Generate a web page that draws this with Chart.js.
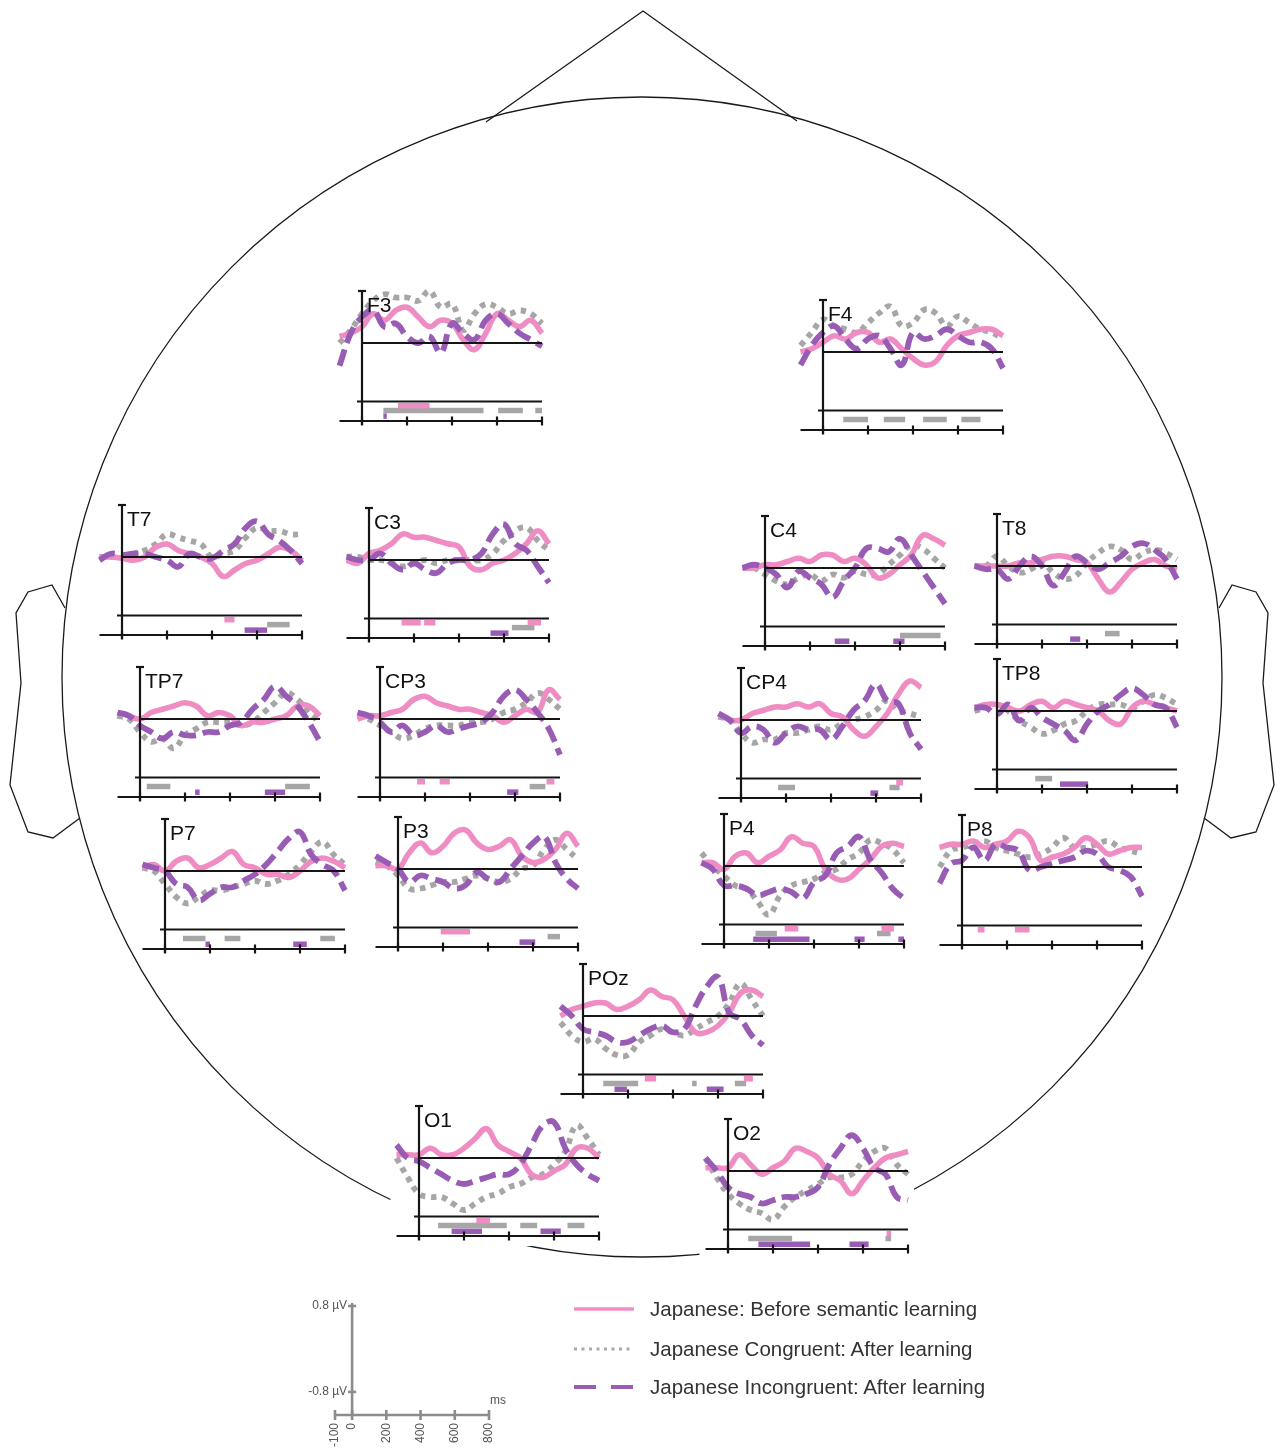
<!DOCTYPE html>
<html>
<head>
<meta charset="utf-8">
<script src="https://cdn.jsdelivr.net/npm/chart.js@4.4.1/dist/chart.umd.min.js"></script>
<style>
  html, body { margin: 0; padding: 0; background: #fff; }
  #page { position: relative; width: 1282px; height: 1452px; overflow: hidden;
          font-family: "Liberation Sans", Arial, Helvetica, sans-serif; }
  canvas { position: absolute; display: block; }
  .legend-row { position: absolute; left: 572px; height: 26px; display: flex; align-items: center;
                font-size: 20.5px; color: #333; white-space: nowrap; }
  .legend-row svg { width: 64px; height: 10px; margin-right: 14px; }
</style>
</head>
<body>
<div id="page">
  <canvas id="head"></canvas>
  <div class="legend-row" style="top:1296px">
    <svg viewBox="0 0 64 10"><line x1="2" y1="5" x2="62" y2="5" stroke="#ef8fc4" stroke-width="3.5"/></svg>
    <span>Japanese: Before semantic learning</span>
  </div>
  <div class="legend-row" style="top:1336px">
    <svg viewBox="0 0 64 10"><line x1="2" y1="5" x2="62" y2="5" stroke="#a8a8a8" stroke-width="3" stroke-dasharray="3 4.5"/></svg>
    <span>Japanese Congruent: After learning</span>
  </div>
  <div class="legend-row" style="top:1374px">
    <svg viewBox="0 0 64 10"><line x1="2" y1="5" x2="62" y2="5" stroke="#9a5db3" stroke-width="4" stroke-dasharray="22 15"/></svg>
    <span>Japanese Incongruent: After learning</span>
  </div>
</div>
<script>
// ---------- ERP data (µV), sampled every 50 ms from -100 to 800 ms ----------
const times = [-100, -50, 0, 50, 100, 150, 200, 250, 300, 350, 400, 450, 500, 550, 600, 650, 700, 750, 800];

const F3_before      = [0.1, 0.15, 0.25, 0.45, 0.35, 0.5, 0.55, 0.4, 0.25, 0.35, 0.3, 0.05, -0.1, 0.15, 0.45, 0.35, 0.25, 0.35, 0.15];
const F3_congruent   = [0.0, 0.2, 0.45, 0.65, 0.75, 0.7, 0.7, 0.65, 0.8, 0.55, 0.6, 0.2, 0.45, 0.6, 0.55, 0.45, 0.5, 0.45, 0.3];
const F3_incongruent = [-0.35, 0.15, 0.4, 0.5, 0.25, 0.3, 0.1, 0.0, 0.1, -0.15, 0.3, 0.15, 0.05, 0.35, 0.45, 0.3, 0.15, 0.05, -0.05];
const F3_sigB = [[160, 300]];
const F3_sigC = [[95, 540], [605, 715], [770, 800]];
const F3_sigI = [[95, 110]];

const F4_before      = [0.0, 0.05, 0.15, 0.25, 0.2, 0.3, 0.3, 0.15, 0.2, 0.05, -0.1, -0.2, -0.15, 0.1, 0.25, 0.3, 0.35, 0.35, 0.25];
const F4_congruent   = [0.1, 0.3, 0.5, 0.4, 0.35, 0.3, 0.45, 0.6, 0.7, 0.4, 0.45, 0.65, 0.6, 0.4, 0.55, 0.45, 0.35, 0.3, 0.2];
const F4_incongruent = [-0.2, 0.1, 0.3, 0.4, 0.2, 0.05, 0.2, 0.25, 0.05, -0.2, 0.3, 0.2, 0.25, 0.35, 0.25, 0.15, 0.15, 0.05, -0.25];
const F4_sigB = [];
const F4_sigC = [[90, 200], [270, 365], [445, 550], [615, 700]];
const F4_sigI = [];

const T7_before      = [0.0, 0.0, -0.02, -0.05, 0.0, 0.15, 0.2, 0.1, 0.05, 0.0, -0.1, -0.3, -0.2, -0.1, -0.05, 0.05, 0.15, 0.1, -0.05];
const T7_congruent   = [0.0, 0.0, 0.0, 0.05, 0.1, 0.2, 0.35, 0.3, 0.25, 0.2, 0.0, 0.05, 0.1, 0.3, 0.45, 0.4, 0.4, 0.35, 0.35];
const T7_incongruent = [-0.05, 0.05, 0.03, 0.05, 0.05, 0.0, -0.05, -0.15, 0.05, 0.0, -0.02, 0.1, 0.2, 0.45, 0.55, 0.35, 0.25, 0.1, -0.1];
const T7_sigB = [[455, 500]];
const T7_sigC = [[645, 745]];
const T7_sigI = [[545, 645]];

const C3_before      = [0.0, -0.05, 0.1, 0.15, 0.25, 0.4, 0.35, 0.35, 0.3, 0.25, 0.2, -0.1, -0.15, -0.05, 0.0, 0.1, 0.25, 0.45, 0.25];
const C3_congruent   = [0.05, 0.05, 0.0, 0.0, -0.05, -0.1, -0.05, 0.0, -0.05, 0.0, 0.0, 0.0, 0.0, 0.1, 0.3, 0.45, 0.5, 0.3, 0.15];
const C3_incongruent = [0.05, 0.0, 0.0, 0.1, -0.05, -0.15, -0.05, -0.15, -0.2, -0.05, 0.0, 0.0, 0.1, 0.4, 0.55, 0.25, 0.15, -0.1, -0.35];
const C3_sigB = [[145, 230], [245, 295], [705, 765]];
const C3_sigC = [[635, 735]];
const C3_sigI = [[540, 620]];

const C4_before      = [0.0, 0.0, 0.05, 0.05, 0.1, 0.15, 0.1, 0.2, 0.2, 0.1, 0.15, 0.05, -0.15, -0.1, 0.05, 0.2, 0.5, 0.45, 0.35];
const C4_congruent   = [0.0, 0.0, -0.1, -0.2, -0.25, -0.15, -0.1, -0.2, -0.1, -0.15, -0.05, -0.1, -0.1, 0.05, 0.2, 0.35, 0.3, 0.15, 0.0];
const C4_incongruent = [0.0, 0.05, 0.0, -0.1, -0.3, -0.05, -0.15, -0.25, -0.45, -0.2, 0.0, 0.3, 0.3, 0.25, 0.45, 0.2, -0.05, -0.3, -0.55];
const C4_sigB = [];
const C4_sigC = [[600, 780]];
const C4_sigI = [[310, 375], [570, 620]];

const T8_before      = [0.0, 0.0, 0.0, 0.0, 0.05, 0.05, 0.1, 0.15, 0.15, 0.1, 0.05, -0.2, -0.4, -0.25, -0.05, 0.05, 0.1, 0.0, -0.05];
const T8_congruent   = [0.0, 0.0, 0.15, 0.0, -0.1, -0.05, 0.05, -0.1, -0.2, -0.15, 0.05, 0.2, 0.3, 0.25, 0.1, 0.2, 0.25, 0.2, 0.1];
const T8_incongruent = [0.0, -0.05, -0.05, -0.2, 0.0, 0.15, 0.0, -0.3, -0.1, 0.15, 0.05, -0.05, 0.05, 0.15, 0.3, 0.35, 0.25, 0.1, -0.2];
const T8_sigB = [];
const T8_sigC = [[480, 545]];
const T8_sigI = [[325, 370]];

const TP7_before      = [0.1, 0.05, 0.0, 0.1, 0.15, 0.2, 0.25, 0.2, 0.05, 0.1, 0.05, -0.1, -0.05, -0.05, 0.0, 0.05, 0.2, 0.2, 0.05];
const TP7_congruent   = [0.05, 0.0, -0.2, -0.35, -0.3, -0.45, -0.25, -0.15, -0.05, -0.05, -0.05, -0.1, -0.05, 0.1, 0.25, 0.4, 0.3, 0.1, -0.05];
const TP7_incongruent = [0.1, 0.05, -0.1, -0.2, -0.3, -0.2, -0.25, -0.25, -0.2, -0.2, -0.1, -0.05, 0.15, 0.3, 0.5, 0.35, 0.2, -0.05, -0.35];
const TP7_sigB = [];
const TP7_sigC = [[30, 135], [645, 755]];
const TP7_sigI = [[245, 265], [555, 645]];

const CP3_before      = [0.0, 0.05, 0.05, 0.1, 0.15, 0.3, 0.35, 0.25, 0.2, 0.15, 0.15, 0.1, 0.05, -0.05, 0.05, 0.15, 0.1, 0.45, 0.3];
const CP3_congruent   = [0.05, 0.0, -0.1, -0.2, -0.3, -0.25, -0.15, -0.1, -0.1, -0.1, -0.05, -0.05, 0.0, 0.1, 0.15, 0.25, 0.4, 0.3, 0.15];
const CP3_incongruent = [0.1, 0.05, -0.05, -0.2, -0.1, -0.25, -0.2, -0.1, -0.2, -0.15, -0.1, -0.05, 0.1, 0.35, 0.45, 0.3, 0.1, -0.15, -0.55];
const CP3_sigB = [[165, 200], [265, 310], [740, 775]];
const CP3_sigC = [[665, 735]];
const CP3_sigI = [[565, 615]];

const CP4_before      = [0.1, 0.0, 0.0, 0.1, 0.15, 0.2, 0.2, 0.25, 0.2, 0.25, 0.1, 0.05, -0.15, -0.25, -0.1, 0.1, 0.4, 0.6, 0.5];
const CP4_congruent   = [0.05, 0.0, -0.2, -0.35, -0.3, -0.3, -0.2, -0.2, -0.15, -0.1, -0.15, -0.05, 0.0, 0.05, 0.15, 0.3, 0.15, 0.1, 0.05];
const CP4_incongruent = [0.1, 0.0, -0.2, -0.1, -0.15, -0.35, -0.2, -0.1, -0.15, -0.15, -0.3, -0.1, 0.15, 0.3, 0.55, 0.3, 0.25, -0.2, -0.45];
const CP4_sigB = [[690, 720]];
const CP4_sigC = [[165, 240], [660, 705]];
const CP4_sigI = [[575, 610]];

const TP8_before      = [0.05, 0.1, 0.1, 0.05, 0.0, 0.1, 0.15, 0.05, 0.15, 0.1, 0.05, 0.0, -0.15, -0.2, 0.05, 0.15, 0.1, 0.05, 0.0];
const TP8_congruent   = [0.0, 0.05, 0.1, 0.0, -0.15, -0.25, -0.35, -0.3, -0.2, -0.15, 0.0, 0.1, 0.1, 0.1, 0.05, 0.15, 0.25, 0.2, 0.1];
const TP8_incongruent = [0.05, 0.05, -0.05, 0.1, -0.15, 0.05, -0.1, -0.2, -0.3, -0.45, -0.2, 0.0, 0.1, 0.25, 0.35, 0.25, 0.1, 0.05, -0.25];
const TP8_sigB = [];
const TP8_sigC = [[170, 245]];
const TP8_sigI = [[280, 405]];

const P7_before      = [0.05, 0.1, 0.0, 0.15, 0.2, 0.05, 0.1, 0.2, 0.3, 0.1, 0.05, -0.05, -0.05, -0.1, 0.0, 0.15, 0.2, 0.15, 0.05];
const P7_congruent   = [0.05, 0.0, -0.2, -0.4, -0.5, -0.4, -0.3, -0.3, -0.25, -0.2, -0.15, -0.2, -0.15, -0.05, 0.1, 0.3, 0.45, 0.25, 0.1];
const P7_incongruent = [0.1, 0.05, 0.0, -0.2, -0.25, -0.45, -0.35, -0.25, -0.25, -0.15, -0.05, 0.1, 0.3, 0.5, 0.6, 0.25, 0.1, 0.0, -0.3];
const P7_sigB = [];
const P7_sigC = [[80, 180], [265, 335], [690, 755]];
const P7_sigI = [[180, 200], [570, 630]];

const P3_before      = [0.05, 0.05, 0.0, 0.25, 0.4, 0.25, 0.35, 0.55, 0.6, 0.4, 0.3, 0.35, 0.45, 0.2, 0.1, 0.15, 0.3, 0.55, 0.35];
const P3_congruent   = [0.1, 0.05, -0.1, -0.3, -0.3, -0.25, -0.2, -0.2, -0.15, -0.1, -0.15, -0.2, -0.15, 0.0, 0.05, 0.3, 0.45, 0.3, 0.15];
const P3_incongruent = [0.2, 0.1, 0.0, -0.2, -0.1, -0.15, -0.2, -0.3, -0.25, -0.05, -0.15, -0.2, 0.0, 0.2, 0.4, 0.5, 0.1, -0.15, -0.3];
const P3_sigB = [[190, 320]];
const P3_sigC = [[665, 720]];
const P3_sigI = [[540, 610]];

const P4_before      = [0.05, 0.05, -0.05, 0.15, 0.2, 0.05, 0.15, 0.25, 0.45, 0.35, 0.3, -0.05, -0.2, -0.2, -0.05, 0.1, 0.3, 0.35, 0.3];
const P4_congruent   = [0.2, 0.0, -0.15, -0.3, -0.35, -0.55, -0.75, -0.45, -0.3, -0.25, -0.2, -0.1, -0.05, 0.1, 0.2, 0.4, 0.35, 0.25, 0.05];
const P4_incongruent = [0.05, -0.05, -0.3, -0.3, -0.35, -0.45, -0.4, -0.35, -0.4, -0.5, -0.25, -0.15, 0.2, 0.3, 0.45, 0.1, -0.1, -0.35, -0.5];
const P4_sigB = [[270, 330], [700, 755]];
const P4_sigC = [[140, 235], [680, 740]];
const P4_sigI = [[130, 380], [580, 625], [775, 800]];

const P8_before      = [0.3, 0.35, 0.35, 0.4, 0.3, 0.35, 0.4, 0.55, 0.45, 0.1, 0.15, 0.2, 0.3, 0.45, 0.35, 0.2, 0.25, 0.3, 0.3];
const P8_congruent   = [0.0, 0.25, 0.3, 0.35, 0.4, 0.3, 0.25, 0.2, 0.15, 0.2, 0.3, 0.45, 0.3, 0.3, 0.35, 0.4, 0.3, 0.25, 0.2];
const P8_incongruent = [-0.25, 0.05, 0.1, 0.3, 0.1, 0.35, 0.3, 0.25, -0.05, 0.0, 0.05, 0.1, 0.15, 0.25, 0.2, 0.0, -0.05, -0.15, -0.45];
const P8_sigB = [[70, 100], [235, 300]];
const P8_sigC = [];
const P8_sigI = [];

const POz_before      = [0.0, 0.1, 0.15, 0.2, 0.2, 0.1, 0.15, 0.25, 0.4, 0.3, 0.25, 0.0, -0.25, -0.25, -0.15, 0.05, 0.35, 0.4, 0.3];
const POz_congruent   = [-0.1, -0.3, -0.4, -0.35, -0.5, -0.6, -0.6, -0.4, -0.3, -0.2, -0.25, -0.3, -0.2, -0.1, 0.0, 0.2, 0.5, 0.25, 0.0];
const POz_incongruent = [0.15, 0.0, -0.2, -0.25, -0.3, -0.4, -0.4, -0.3, -0.2, -0.15, -0.25, -0.2, 0.15, 0.45, 0.6, 0.05, -0.05, -0.3, -0.45];
const POz_sigB = [[275, 325], [715, 755]];
const POz_sigC = [[90, 245], [485, 505], [675, 725]];
const POz_sigI = [[140, 195], [550, 625]];

const O1_before      = [0.05, 0.05, 0.05, 0.15, 0.05, 0.05, 0.15, 0.3, 0.45, 0.2, 0.1, 0.0, -0.25, -0.3, -0.2, -0.1, 0.15, 0.15, 0.0];
const O1_congruent   = [0.0, -0.3, -0.55, -0.6, -0.6, -0.7, -0.8, -0.7, -0.6, -0.55, -0.45, -0.4, -0.3, -0.25, -0.1, 0.1, 0.5, 0.3, 0.05];
const O1_incongruent = [0.2, 0.0, -0.05, -0.15, -0.25, -0.35, -0.4, -0.35, -0.3, -0.25, -0.25, -0.1, 0.2, 0.5, 0.55, 0.15, -0.1, -0.25, -0.35];
const O1_sigB = [[255, 315]];
const O1_sigC = [[85, 390], [450, 525], [660, 735]];
const O1_sigI = [[145, 280], [540, 630]];

const O2_before      = [0.05, 0.05, 0.05, 0.25, 0.1, -0.05, 0.05, 0.15, 0.35, 0.3, 0.2, -0.05, -0.15, -0.35, -0.15, 0.05, 0.2, 0.25, 0.3];
const O2_congruent   = [0.2, -0.1, -0.35, -0.5, -0.6, -0.65, -0.75, -0.55, -0.4, -0.3, -0.2, -0.1, -0.1, -0.05, 0.15, 0.3, 0.35, 0.1, -0.05];
const O2_incongruent = [0.2, 0.0, -0.25, -0.35, -0.4, -0.5, -0.45, -0.4, -0.4, -0.35, -0.25, 0.1, 0.35, 0.55, 0.35, 0.05, -0.05, -0.4, -0.45];
const O2_sigB = [[705, 725]];
const O2_sigC = [[90, 285], [700, 725]];
const O2_sigI = [[135, 365], [540, 625]];

// axis tick values of the calibration bar
const scaleTicksMs = [-100, 0, 200, 400, 600, 800];
const scaleTicksUv = [0.8, -0.8];
const panelTicksMs = [0, 200, 400, 600, 800];

// ---------- per-panel table built from the arrays above ----------
const panelSeries = {
  F3:  [F3_before, F3_congruent, F3_incongruent, F3_sigB, F3_sigC, F3_sigI],
  F4:  [F4_before, F4_congruent, F4_incongruent, F4_sigB, F4_sigC, F4_sigI],
  T7:  [T7_before, T7_congruent, T7_incongruent, T7_sigB, T7_sigC, T7_sigI],
  C3:  [C3_before, C3_congruent, C3_incongruent, C3_sigB, C3_sigC, C3_sigI],
  C4:  [C4_before, C4_congruent, C4_incongruent, C4_sigB, C4_sigC, C4_sigI],
  T8:  [T8_before, T8_congruent, T8_incongruent, T8_sigB, T8_sigC, T8_sigI],
  TP7: [TP7_before, TP7_congruent, TP7_incongruent, TP7_sigB, TP7_sigC, TP7_sigI],
  CP3: [CP3_before, CP3_congruent, CP3_incongruent, CP3_sigB, CP3_sigC, CP3_sigI],
  CP4: [CP4_before, CP4_congruent, CP4_incongruent, CP4_sigB, CP4_sigC, CP4_sigI],
  TP8: [TP8_before, TP8_congruent, TP8_incongruent, TP8_sigB, TP8_sigC, TP8_sigI],
  P7:  [P7_before, P7_congruent, P7_incongruent, P7_sigB, P7_sigC, P7_sigI],
  P3:  [P3_before, P3_congruent, P3_incongruent, P3_sigB, P3_sigC, P3_sigI],
  P4:  [P4_before, P4_congruent, P4_incongruent, P4_sigB, P4_sigC, P4_sigI],
  P8:  [P8_before, P8_congruent, P8_incongruent, P8_sigB, P8_sigC, P8_sigI],
  POz: [POz_before, POz_congruent, POz_incongruent, POz_sigB, POz_sigC, POz_sigI],
  O1:  [O1_before, O1_congruent, O1_incongruent, O1_sigB, O1_sigC, O1_sigI],
  O2:  [O2_before, O2_congruent, O2_incongruent, O2_sigB, O2_sigC, O2_sigI]
};

// ---------- layout: where each electrode's 0 ms / 0 µV origin sits on the page ----------
const panelLayout = [
  { id: 'F3',  x: 362, y: 343 },  { id: 'F4',  x: 823, y: 352 },
  { id: 'T7',  x: 122, y: 557 },  { id: 'C3',  x: 369, y: 560 },
  { id: 'C4',  x: 765, y: 568 },  { id: 'T8',  x: 997, y: 566 },
  { id: 'TP7', x: 140, y: 719 },  { id: 'CP3', x: 380, y: 719 },
  { id: 'CP4', x: 741, y: 720 },  { id: 'TP8', x: 997, y: 711 },
  { id: 'P7',  x: 165, y: 871 },  { id: 'P3',  x: 398, y: 869 },
  { id: 'P4',  x: 724, y: 866 },  { id: 'P8',  x: 962, y: 867 },
  { id: 'POz', x: 583, y: 1016 },
  { id: 'O1',  x: 419, y: 1158 }, { id: 'O2',  x: 728, y: 1171 }
];

const PX_PER_MS = 0.225;
const PX_PER_UV = 65;
const T_MIN = -100, T_MAX = 800;
const Y_MAX = 1.1, Y_MIN = -1.3;
const TOP_TICK = 0.8;        // calibration tick on the vertical axis
const LOWER_LINE = -0.9;     // baseline above the significance rows
const AXIS_FLOOR = -1.2;     // time axis
const SIG_ROWS = { before: -0.965, congruent: -1.04, incongruent: -1.125 };

const COLORS = { before: '#ef8cc3', congruent: '#a6a6a6', incongruent: '#995cb4', axis: '#151515' };

Chart.defaults.font.family = '"Liberation Sans", Arial, Helvetica, sans-serif';

// ---------- head outline ----------
const HEAD = { cx: 642, cy: 677, r: 580 };
const NOSE = [[486, 122], [643, 11], [797, 121]];
const LEFT_EAR = [[65, 608], [52, 585], [28, 592], [16, 613], [21, 683], [10, 785], [28, 832], [53, 838], [80, 818]];

const headOutline = {
  id: 'headOutline',
  afterDraw(chart) {
    const { ctx, scales: { x, y } } = chart;
    const px = v => x.getPixelForValue(v), py = v => y.getPixelForValue(v);
    ctx.save();
    ctx.strokeStyle = '#1a1a1a';
    ctx.lineWidth = 1.3;
    ctx.lineJoin = 'miter';
    ctx.beginPath();
    ctx.arc(px(HEAD.cx), py(HEAD.cy), px(HEAD.cx + HEAD.r) - px(HEAD.cx), 0, Math.PI * 2);
    ctx.stroke();
    const poly = pts => {
      ctx.beginPath();
      pts.forEach(([a, b], i) => i ? ctx.lineTo(px(a), py(b)) : ctx.moveTo(px(a), py(b)));
      ctx.stroke();
    };
    poly(NOSE);
    poly(LEFT_EAR);
    poly(LEFT_EAR.map(([a, b]) => [2 * HEAD.cx - a, b]));
    ctx.restore();
  }
};

const headCanvas = document.getElementById('head');
headCanvas.width = 1282; headCanvas.height = 1452;
headCanvas.style.left = '0px'; headCanvas.style.top = '0px';
headCanvas.style.width = '1282px'; headCanvas.style.height = '1452px';
new Chart(headCanvas, {
  type: 'scatter',
  data: { datasets: [] },
  options: {
    responsive: false, animation: false, events: [],
    layout: { padding: 0 },
    plugins: { legend: { display: false }, tooltip: { enabled: false } },
    scales: {
      x: { type: 'linear', min: 0, max: 1282, display: false },
      y: { type: 'linear', min: 0, max: 1452, reverse: true, display: false }
    }
  },
  plugins: [headOutline]
});

// ---------- electrode panels ----------
const panelFrame = {
  id: 'panelFrame',
  beforeDatasetsDraw(chart) {
    // white card behind the panel, hiding the head outline where they overlap
    const { ctx, scales: { x, y } } = chart;
    const xL = x.getPixelForValue(T_MIN), xR = x.getPixelForValue(T_MAX);
    const yTop = y.getPixelForValue(TOP_TICK), yBot = y.getPixelForValue(AXIS_FLOOR);
    ctx.save();
    ctx.fillStyle = '#fff';
    ctx.fillRect(xL - 6, yTop - 4, xR - xL + 12, yBot - yTop + 14);
    ctx.restore();
  },
  afterDatasetsDraw(chart, args, opts) {
    const { ctx, scales: { x, y } } = chart;
    const x0 = x.getPixelForValue(0), xL = x.getPixelForValue(T_MIN), xR = x.getPixelForValue(T_MAX);
    const yTop = y.getPixelForValue(TOP_TICK), y0 = y.getPixelForValue(0);
    const yLow = y.getPixelForValue(LOWER_LINE), yBot = y.getPixelForValue(AXIS_FLOOR);
    ctx.save();
    ctx.strokeStyle = COLORS.axis;
    ctx.lineWidth = 2.2;
    ctx.lineCap = 'butt';
    const seg = (a, b, c, d) => { ctx.beginPath(); ctx.moveTo(a, b); ctx.lineTo(c, d); ctx.stroke(); };
    seg(x0, yTop, x0, yBot + 4);
    seg(x0 - 4, yTop, x0 + 4, yTop);
    seg(x0, y0, xR, y0);
    seg(x0 - 5, yLow, xR, yLow);
    seg(xL, yBot, xR, yBot);
    panelTicksMs.forEach(t => {
      const tx = x.getPixelForValue(t);
      seg(tx, yBot - 4.5, tx, yBot + 4.5);
    });
    ctx.fillStyle = '#111';
    ctx.font = '21px "Liberation Sans", Arial, sans-serif';
    ctx.textBaseline = 'alphabetic';
    ctx.textAlign = 'left';
    ctx.fillText(opts.label, x0 + 5, yTop + 21);
    ctx.restore();
  }
};

function curve(vals) {
  return times.map((t, i) => ({ x: t, y: vals[i] }));
}
function spans(list, row) {
  const out = [];
  list.forEach(([a, b]) => { out.push({ x: a, y: row }, { x: b, y: row }, { x: b, y: null }); });
  return out;
}
function waveDataset(vals, color, dash, width) {
  return {
    data: curve(vals), borderColor: color, borderWidth: width, borderDash: dash,
    borderCapStyle: 'butt', borderJoinStyle: 'round',
    pointRadius: 0, tension: 0.42, fill: false, clip: false
  };
}
function sigDataset(list, row, color) {
  return {
    data: spans(list, row), borderColor: color, borderWidth: 5.5,
    borderCapStyle: 'butt', pointRadius: 0, tension: 0, fill: false, spanGaps: false, clip: false
  };
}

const page = document.getElementById('page');
const padL = 8, padT = 2, padB = 6;

panelLayout.forEach(p => {
  const [before, congruent, incongruent, sigB, sigC, sigI] = panelSeries[p.id];
  const plotW = (T_MAX - T_MIN) * PX_PER_MS;
  const plotH = (Y_MAX - Y_MIN) * PX_PER_UV;
  const w = Math.ceil(plotW + padL + 10);
  const h = Math.ceil(plotH + padT + padB);
  const left = Math.round(p.x + T_MIN * PX_PER_MS - padL);
  const top = Math.round(p.y - Y_MAX * PX_PER_UV - padT);
  const c = document.createElement('canvas');
  c.width = w; c.height = h;
  c.style.left = left + 'px'; c.style.top = top + 'px';
  c.style.width = w + 'px'; c.style.height = h + 'px';
  page.appendChild(c);
  // padding so that 0 ms / 0 µV land on the anchor pixel
  const pl = p.x + T_MIN * PX_PER_MS - left;
  const pt = p.y - Y_MAX * PX_PER_UV - top;
  new Chart(c, {
    type: 'line',
    data: {
      datasets: [
        waveDataset(incongruent, COLORS.incongruent, [17, 7], 5.8),
        waveDataset(before, COLORS.before, [], 5.5),
        waveDataset(congruent, COLORS.congruent, [5.5, 5.5], 5.8),
        sigDataset(sigB, SIG_ROWS.before, COLORS.before),
        sigDataset(sigC, SIG_ROWS.congruent, COLORS.congruent),
        sigDataset(sigI, SIG_ROWS.incongruent, COLORS.incongruent)
      ]
    },
    options: {
      responsive: false, animation: false, events: [],
      layout: { padding: { left: pl, top: pt, right: w - pl - plotW, bottom: h - pt - plotH } },
      plugins: { legend: { display: false }, tooltip: { enabled: false }, panelFrame: { label: p.id } },
      scales: {
        x: { type: 'linear', min: T_MIN, max: T_MAX, display: false },
        y: { type: 'linear', min: Y_MIN, max: Y_MAX, display: false }
      }
    },
    plugins: [panelFrame]
  });
});

// ---------- calibration bar ----------
const calibration = {
  id: 'calibration',
  afterDraw(chart) {
    const { ctx, scales: { x, y } } = chart;
    const x0 = x.getPixelForValue(0);
    const yBot = y.getPixelForValue(y.min);
    const xL = x.getPixelForValue(scaleTicksMs[0]);
    const xR = x.getPixelForValue(scaleTicksMs[scaleTicksMs.length - 1]);
    ctx.save();
    ctx.strokeStyle = '#8c8c8c';
    ctx.lineWidth = 2.6;
    const seg = (a, b, c, d) => { ctx.beginPath(); ctx.moveTo(a, b); ctx.lineTo(c, d); ctx.stroke(); };
    seg(x0, y.getPixelForValue(scaleTicksUv[0]) - 3, x0, yBot);
    seg(xL, yBot, xR, yBot);
    ctx.fillStyle = '#555';
    ctx.font = '12px "Liberation Sans", Arial, sans-serif';
    scaleTicksUv.forEach(v => {
      const ty = y.getPixelForValue(v);
      seg(x0 - 4, ty, x0 + 4, ty);
      ctx.textAlign = 'right'; ctx.textBaseline = 'middle';
      ctx.fillText(v + ' µV', x0 - 5, ty);
    });
    scaleTicksMs.forEach(t => {
      const tx = x.getPixelForValue(t);
      seg(tx, yBot - 5, tx, yBot + 5);
      ctx.save();
      ctx.translate(tx, yBot + 8);
      ctx.rotate(-Math.PI / 2);
      ctx.textAlign = 'right'; ctx.textBaseline = 'middle';
      ctx.fillText(String(t), 0, 0);
      ctx.restore();
    });
    ctx.textAlign = 'left'; ctx.textBaseline = 'middle';
    ctx.fillText('ms', xR + 1, yBot - 14);
    ctx.restore();
  }
};

const calCanvas = document.createElement('canvas');
calCanvas.width = 240; calCanvas.height = 162;
calCanvas.style.left = '280px'; calCanvas.style.top = '1290px';
calCanvas.style.width = '240px'; calCanvas.style.height = '162px';
page.appendChild(calCanvas);
new Chart(calCanvas, {
  type: 'line',
  data: { datasets: [] },
  options: {
    responsive: false, animation: false, events: [],
    layout: { padding: { left: 55, right: 31, top: 16, bottom: 37 } },
    plugins: { legend: { display: false }, tooltip: { enabled: false } },
    scales: {
      x: { type: 'linear', min: -100, max: 800, display: false },
      y: { type: 'linear', min: -1.23, max: 0.8, display: false }
    }
  },
  plugins: [calibration]
});
</script>
</body>
</html>
